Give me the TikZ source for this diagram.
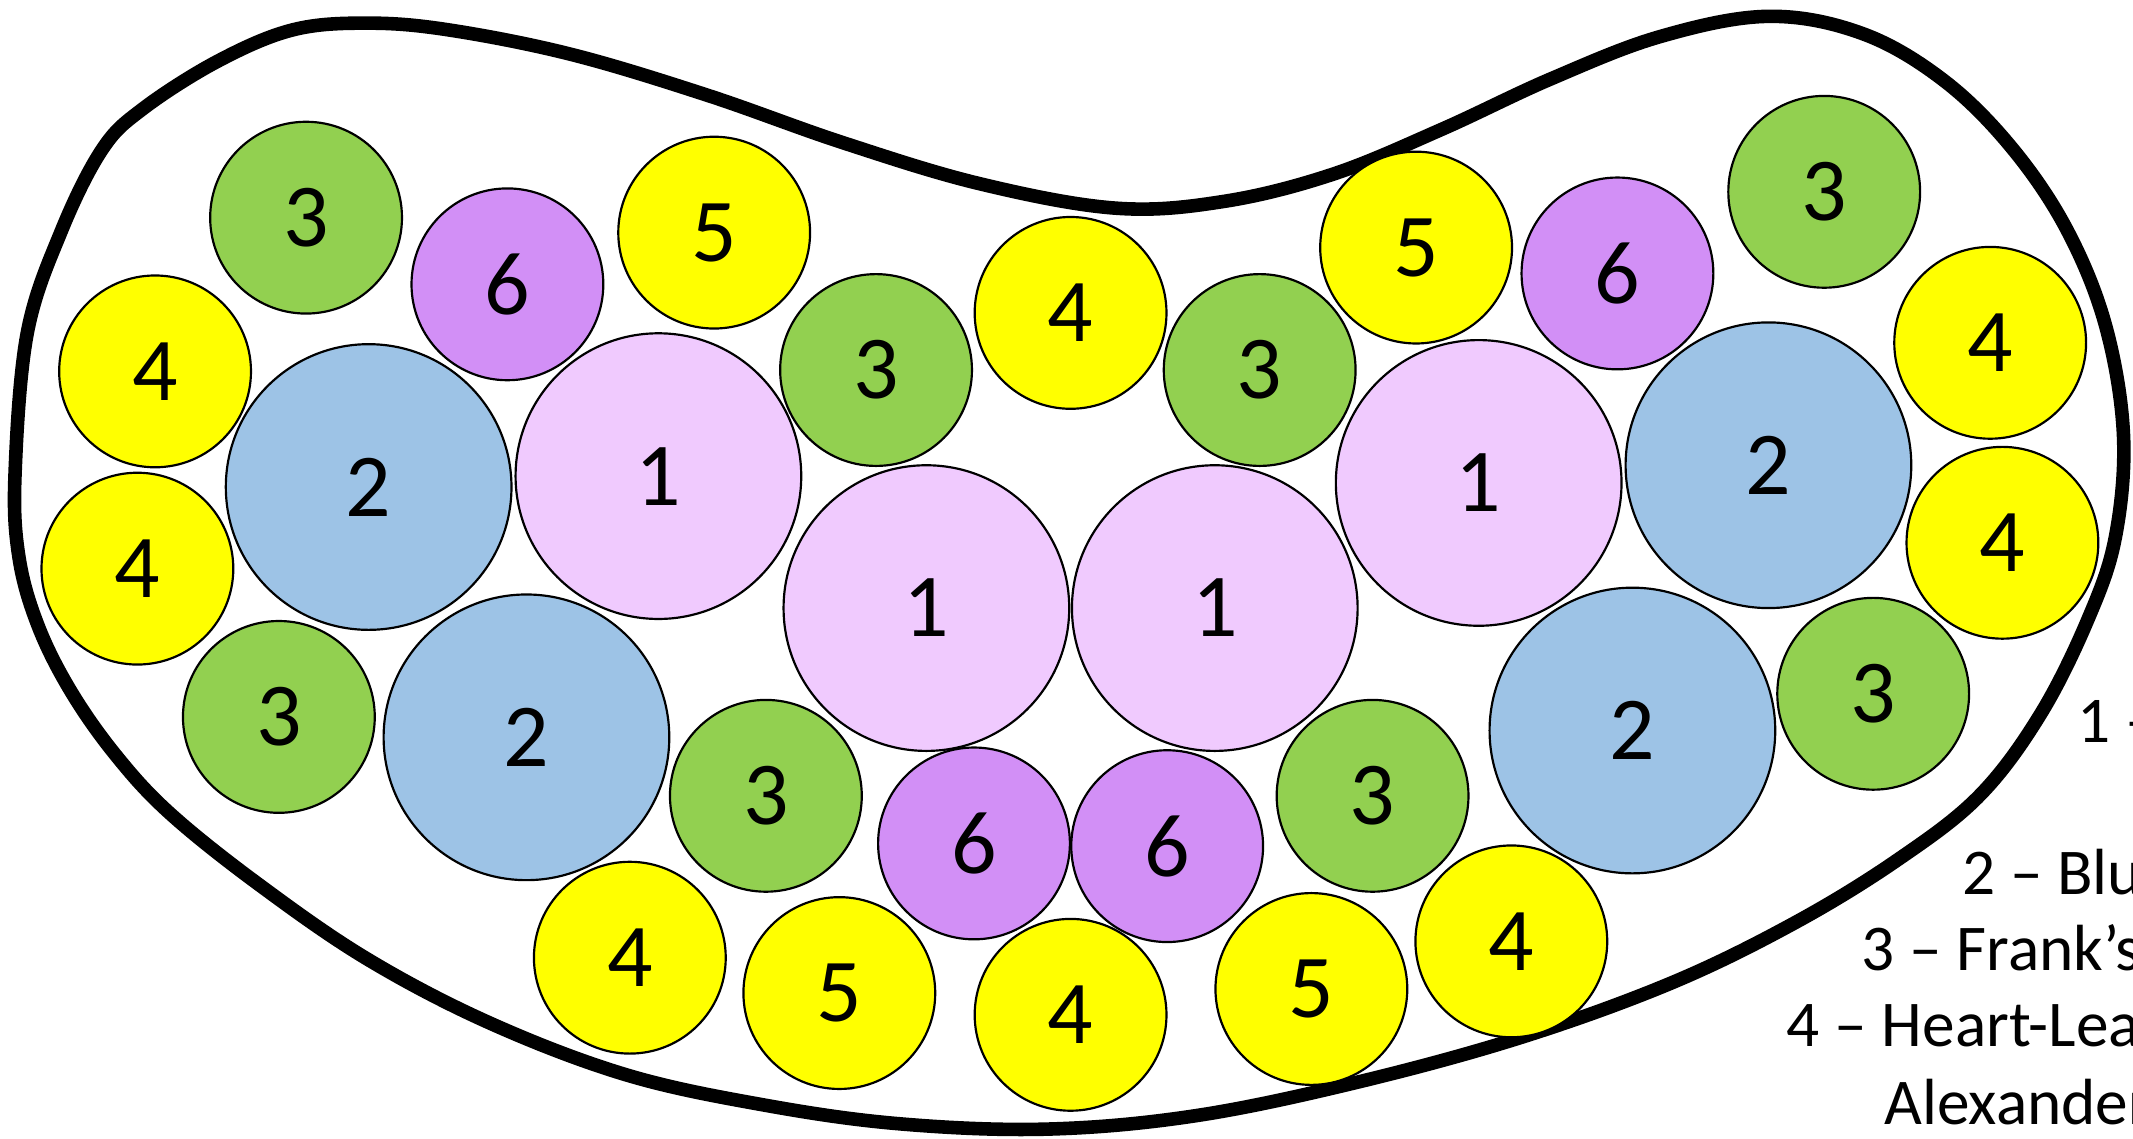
\documentclass[tikz,border=0pt]{standalone}
\usepackage{fontspec}
\setmainfont{Carlito}
\usetikzlibrary{positioning}

\definecolor{pinkc}{HTML}{F0CAFE}
\definecolor{bluec}{HTML}{9DC3E6}
\definecolor{greenc}{HTML}{92D050}
\definecolor{yellowc}{HTML}{FFFF00}
\definecolor{purplec}{HTML}{D28FF6}

\tikzset{
  plant/.style={circle, draw=black, line width=0.8pt, inner sep=0pt,
    font=\fontsize{33}{33}\selectfont},
  big/.style={plant, minimum size=105pt},
  small/.style={plant, minimum size=70.5pt},
  bed/.style={line width=5pt, line join=round},
  key/.style={anchor=west, inner sep=0pt, font=\fontsize{24}{28}\selectfont}
}

\begin{document}
\begin{tikzpicture}[x=0.5pt, y=-0.5pt]
	\useasboundingbox (0,0) rectangle (1568,836.6);
	\clip (0,0) rectangle (1568,836.6);
	\fill[white] (0,0) rectangle (1568,836.6);

	% garden bed
	\draw[bed] plot[smooth cycle, tension=0.6] coordinates {
		(11,350) (20,245) (45,170) (75,110) (105,80) (160,45) (215,22)
		(270,17) (330,22) (420,40) (520,70) (620,105) (720,135) (820,153)
		(900,148) (980,128) (1060,95) (1140,58) (1220,27) (1300,12)
		(1370,25) (1430,60) (1480,110) (1520,170) (1548,240) (1561,320)
		(1555,395) (1535,455) (1500,525) (1455,585) (1395,632) (1320,678)
		(1230,722) (1120,762) (1000,795) (880,820) (770,830) (660,826)
		(560,812) (460,790) (360,752) (270,705) (190,650) (125,598)
		(85,555) (52,508) (28,460) (14,410)};

	\begin{scope}
		% 1
		\node[big, fill=pinkc] (a1) at (484, 350) {1};
		\node[big, fill=pinkc] (a2) at (681, 447) {1};
		\node[big, fill=pinkc] (a3) at (893, 447) {1};
		\node[big, fill=pinkc] (a4) at (1087, 355) {1};

		% 2
		\node[big, fill=bluec] (b1) at (271, 358) {2};
		\node[big, fill=bluec] (b2) at (387, 542) {2};
		\node[big, fill=bluec] (b3) at (1300, 342) {2};
		\node[big, fill=bluec] (b4) at (1200, 537) {2};

		% 3
		\node[small, fill=greenc] (c1) at (225, 160) {3};
		\node[small, fill=greenc] (c2) at (644, 272) {3};
		\node[small, fill=greenc] (c3) at (926, 272) {3};
		\node[small, fill=greenc] (c4) at (1341, 141) {3};
		\node[small, fill=greenc] (c5) at (205, 527) {3};
		\node[small, fill=greenc] (c6) at (563, 585) {3};
		\node[small, fill=greenc] (c7) at (1009, 585) {3};
		\node[small, fill=greenc] (c8) at (1377, 510) {3};

		% 4
		\node[small, fill=yellowc] (d1) at (114, 273) {4};
		\node[small, fill=yellowc] (d2) at (101, 418) {4};
		\node[small, fill=yellowc] (d3) at (787, 230) {4};
		\node[small, fill=yellowc] (d4) at (1463, 252) {4};
		\node[small, fill=yellowc] (d5) at (1472, 399) {4};
		\node[small, fill=yellowc] (d6) at (463, 704) {4};
		\node[small, fill=yellowc] (d7) at (787, 746) {4};
		\node[small, fill=yellowc] (d8) at (1111, 692) {4};

		% 5
		\node[small, fill=yellowc] (e1) at (525, 171) {5};
		\node[small, fill=yellowc] (e2) at (1041, 182) {5};
		\node[small, fill=yellowc] (e3) at (617, 730) {5};
		\node[small, fill=yellowc] (e4) at (964, 727) {5};

		% 6
		\node[small, fill=purplec] (f1) at (373, 209) {6};
		\node[small, fill=purplec] (f2) at (1189, 201) {6};
		\node[small, fill=purplec] (f3) at (716, 620) {6};
		\node[small, fill=purplec] (f4) at (858, 622) {6};
	\end{scope}

	% legend
	\node[key] (k1) at (1527, 530) {1 –};
	\node[key] (k2) at (1442, 641) {2 – Blue};
	\node[key] (k3) at (1368, 697) {3 – Frank’s};
	\node[key] (k4) at (1313, 753) {4 – Heart-Leaf};
	\node[key] (k5) at (1385, 810) {Alexanders};
\end{tikzpicture}
\end{document}
